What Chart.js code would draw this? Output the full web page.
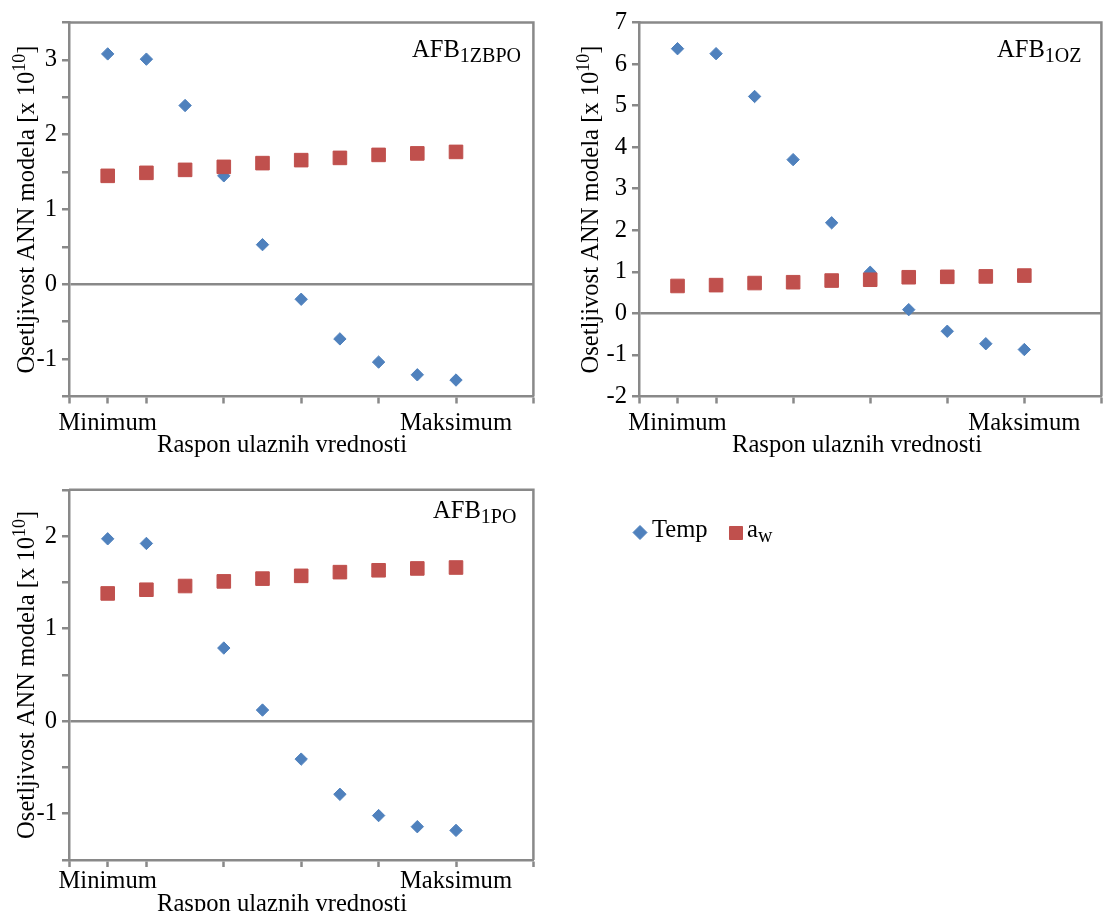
<!DOCTYPE html>
<html>
<head>
<meta charset="utf-8">
<script src="https://cdn.jsdelivr.net/npm/chart.js@4/dist/chart.umd.min.js"></script>
<style>
  html, body { margin: 0; padding: 0; background: #fff; overflow: hidden; width: 1104px; height: 911px; }
  canvas { position: absolute; }
</style>
</head>
<body>
<canvas id="g1" width="552" height="460" style="left:0;top:0"></canvas>
<canvas id="g2" width="552" height="460" style="left:560px;top:0"></canvas>
<canvas id="g3" width="552" height="447" style="left:0;top:470px"></canvas>
<canvas id="leg" width="300" height="70" style="left:600px;top:500px"></canvas>
<script>
  // tacke na x osi (raspon ulaznih vrednosti)
  const tacke = [1, 2, 3, 4, 5, 6, 7, 8, 9, 10];
  const xPodeoci = [0, 1, 2, 4, 6, 8, 10, 12];
  const xOznake = { 1: 'Minimum', 10: 'Maksimum' };

  // AFB1ZBPO
  const tempZBPO = [3.08, 3.01, 2.39, 1.45, 0.53, -0.20, -0.73, -1.04, -1.21, -1.28];
  const awZBPO = [1.45, 1.49, 1.53, 1.57, 1.62, 1.66, 1.69, 1.73, 1.75, 1.77];
  // AFB1OZ
  const tempOZ = [6.37, 6.25, 5.22, 3.70, 2.18, 0.99, 0.09, -0.43, -0.73, -0.87];
  const awOZ = [0.66, 0.68, 0.73, 0.75, 0.79, 0.81, 0.87, 0.88, 0.89, 0.91];
  // AFB1PO
  const tempPO = [1.97, 1.92, 1.46, 0.79, 0.12, -0.41, -0.79, -1.02, -1.14, -1.18];
  const awPO = [1.38, 1.42, 1.46, 1.51, 1.54, 1.57, 1.61, 1.63, 1.65, 1.66];

  const SIVA = '#898989';
  const PLAVA = '#4F81BD';
  const CRVENA = '#C0504D';
  const FONT = '"Liberation Serif", "Times New Roman", serif';
  const VEL = 24.6;

  // tekst u delovima (za eksponent i indeks)
  function deloviTekst(ctx, delovi, x, y, centar) {
    let ukupno = 0;
    delovi.forEach(d => {
      ctx.font = d.vel + 'px ' + FONT;
      d.w = ctx.measureText(d.t).width;
      ukupno += d.w;
    });
    let cx = centar ? x - ukupno / 2 : x;
    ctx.textAlign = 'left';
    ctx.textBaseline = 'alphabetic';
    delovi.forEach(d => {
      ctx.font = d.vel + 'px ' + FONT;
      ctx.fillText(d.t, cx, y + (d.dy || 0));
      cx += d.w;
    });
  }

  const natpisi = {
    id: 'natpisi',
    beforeDatasetsDraw(chart, args, o) {
      const ctx = chart.ctx, a = chart.chartArea;
      ctx.save();
      ctx.strokeStyle = SIVA;
      ctx.lineWidth = 2.5;
      ctx.beginPath();
      ctx.moveTo(a.left, a.top);
      ctx.lineTo(a.right, a.top);
      ctx.lineTo(a.right, a.bottom);
      ctx.stroke();
      ctx.restore();
    },
    afterDraw(chart, args, o) {
      const ctx = chart.ctx, a = chart.chartArea;
      ctx.save();
      ctx.fillStyle = '#000';
      // naslov x ose
      deloviTekst(ctx, [{ t: 'Raspon ulaznih vrednosti', vel: VEL }], o.xNaslovX, o.xNaslovY, true);
      // naslov y ose, rotiran
      ctx.save();
      ctx.translate(o.yNaslovX, (a.top + a.bottom) / 2);
      ctx.rotate(-Math.PI / 2);
      deloviTekst(ctx, [
        { t: 'Osetljivost ANN modela [x 10', vel: VEL },
        { t: '10', vel: 18, dy: -9 },
        { t: ']', vel: VEL }
      ], 0, 0, true);
      ctx.restore();
      // ime panela
      deloviTekst(ctx, [
        { t: 'AFB', vel: VEL },
        { t: o.indeks, vel: 20, dy: 5 }
      ], o.imeX, o.imeY, false);
      ctx.restore();
    }
  };

  function grafik(id, temp, aw, y, okvir, n) {
    return new Chart(document.getElementById(id), {
      type: 'scatter',
      data: {
        datasets: [{
          label: 'Temp',
          data: tacke.map((x, i) => ({ x: x, y: temp[i] })),
          pointStyle: 'rectRot',
          pointRadius: 6.2,
          backgroundColor: PLAVA,
          borderColor: PLAVA,
          borderWidth: 1,
          order: 1
        }, {
          label: 'aw',
          data: tacke.map((x, i) => ({ x: x, y: aw[i] })),
          pointStyle: 'rect',
          pointRadius: 9.6,
          backgroundColor: CRVENA,
          borderColor: CRVENA,
          borderWidth: 1,
          order: 0
        }]
      },
      options: {
        responsive: false,
        animation: false,
        events: [],
        layout: { padding: { left: 0, top: okvir.gore, right: okvir.desno, bottom: 0 } },
        plugins: {
          legend: { display: false },
          tooltip: { enabled: false },
          natpisi: n
        },
        scales: {
          x: {
            type: 'linear',
            min: 0,
            max: 12,
            afterBuildTicks: s => { s.ticks = xPodeoci.map(v => ({ value: v })); },
            afterFit: s => { s.height = okvir.dole; },
            ticks: {
              autoSkip: false,
              maxRotation: 0,
              padding: okvir.xPad,
              color: '#000',
              font: { family: FONT, size: VEL },
              callback: v => xOznake[v] || ''
            },
            grid: { drawOnChartArea: false, drawTicks: true, tickLength: 7, tickColor: SIVA, tickWidth: 2.5 },
            border: { display: true, color: SIVA, width: 2.5 }
          },
          y: {
            min: y.min,
            max: y.max,
            afterFit: s => { s.width = okvir.levo; },
            ticks: {
              stepSize: y.korak,
              autoSkip: false,
              padding: 5,
              color: '#000',
              font: { family: FONT, size: VEL },
              callback: v => Number.isInteger(v) ? String(v) : ''
            },
            grid: {
              drawOnChartArea: true,
              color: c => c.tick && c.tick.value === 0 ? SIVA : 'rgba(0,0,0,0)',
              lineWidth: 2.5,
              tickLength: 7,
              tickColor: SIVA,
              tickWidth: 2.5
            },
            border: { display: true, color: SIVA, width: 2.5 }
          }
        }
      },
      plugins: [natpisi]
    });
  }

  grafik('g1', tempZBPO, awZBPO, { min: -1.5, max: 3.5, korak: 0.5 },
    { levo: 69, desno: 18.6, gore: 22.5, dole: 63.5, xPad: 5 },
    { xNaslovX: 282, xNaslovY: 452, yNaslovX: 34, imeX: 412, imeY: 57, indeks: '1ZBPO' });

  grafik('g2', tempOZ, awOZ, { min: -2, max: 7, korak: 1 },
    { levo: 79, desno: 1.4, gore: 22.5, dole: 63.5, xPad: 5 },
    { xNaslovX: 297, xNaslovY: 452, yNaslovX: 38, imeX: 437, imeY: 57, indeks: '1OZ' });

  grafik('g3', tempPO, awPO, { min: -1.5, max: 2.5, korak: 0.5 },
    { levo: 69, desno: 18.6, gore: 17, dole: 57, xPad: 0 },
    { xNaslovX: 282, xNaslovY: 441, yNaslovX: 34, imeX: 433, imeY: 48, indeks: '1PO' });

  // zajednicka legenda
  new Chart(document.getElementById('leg'), {
    type: 'scatter',
    data: {
      datasets: [
        { label: 'Temp', data: [], pointStyle: 'rectRot', backgroundColor: PLAVA, borderColor: PLAVA },
        { label: 'aw', data: [], pointStyle: 'rect', backgroundColor: CRVENA, borderColor: CRVENA }
      ]
    },
    options: {
      responsive: false,
      animation: false,
      events: [],
      plugins: { legend: { display: false }, tooltip: { enabled: false } },
      scales: { x: { display: false }, y: { display: false } }
    },
    plugins: [{
      id: 'legenda',
      afterDraw(chart) {
        const ctx = chart.ctx;
        const ds = chart.data.datasets;
        ctx.save();
        const stavke = [
          { d: ds[0], x: 40, y: 32.5, r: 7, tx: 52, tekst: [{ t: 'Temp', vel: VEL }] },
          { d: ds[1], x: 136, y: 33, r: 9.2, tx: 147, tekst: [{ t: 'a', vel: VEL }, { t: 'w', vel: 20, dy: 5 }] }
        ];
        stavke.forEach(s => {
          ctx.fillStyle = s.d.backgroundColor;
          ctx.strokeStyle = s.d.borderColor;
          ctx.lineWidth = 1;
          Chart.helpers.drawPoint(ctx, { pointStyle: s.d.pointStyle, radius: s.r, rotation: 0, borderWidth: 1 }, s.x, s.y);
          ctx.fillStyle = '#000';
          deloviTekst(ctx, s.tekst, s.tx, 37, false);
        });
        ctx.restore();
      }
    }]
  });
</script>
</body>
</html>
